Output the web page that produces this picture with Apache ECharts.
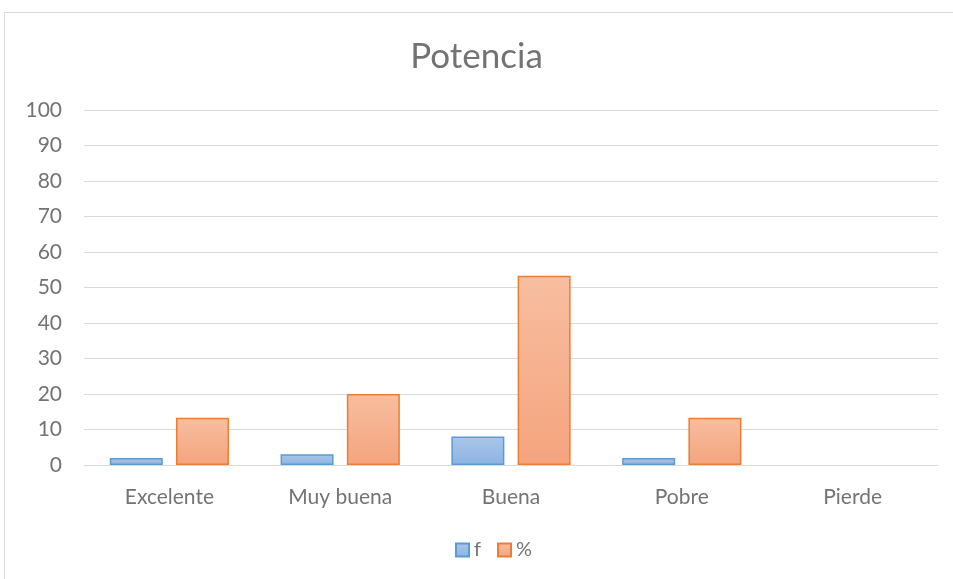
<!DOCTYPE html>
<html>
<head>
<meta charset="utf-8">
<script src="https://cdn.jsdelivr.net/npm/echarts@6/dist/echarts.min.js"></script>
<style>
  html, body { margin: 0; padding: 0; background: #fff; }
  #chart { width: 953px; height: 579px; }
</style>
</head>
<body>
<div id="chart"></div>
<script>
// Ratings of engine power
const categories = ['Excelente', 'Muy buena', 'Buena', 'Pobre', 'Pierde'];
const freq = [2, 3, 8, 2, 0];
const percent = [13.33, 20, 53.33, 13.33, 0];
const yTicks = { min: 0, max: 100, interval: 10 };

const font = 'Lato, "Open Sans", sans-serif';
const textColor = '#737373';
const grad = (top, bottom) => new echarts.graphic.LinearGradient(0, 0, 0, 1, [
  { offset: 0, color: top }, { offset: 1, color: bottom }
]);
// zero-height bars get no outline so they stay invisible
const bars = values => values.map(v => v === 0 ? { value: v, itemStyle: { borderWidth: 0 } } : v);

const chart = echarts.init(document.getElementById('chart'));
chart.setOption({
  animation: false,
  graphic: [{
    type: 'rect',
    shape: { x: 4.5, y: 12.5, width: 1000, height: 1000 },
    style: { fill: 'none', stroke: '#d9d9d9', lineWidth: 1 },
    silent: true
  }],
  title: {
    text: 'Potencia',
    left: 'center',
    top: 34,
    textStyle: { fontFamily: font, fontSize: 35, fontWeight: 'normal', color: textColor }
  },
  legend: {
    bottom: 14,
    left: 450,
    icon: 'rect',
    itemWidth: 13,
    itemHeight: 13,
    itemGap: 16,
    textStyle: { fontFamily: font, fontSize: 20, color: textColor },
    data: ['f', '%']
  },
  grid: { left: 84, right: 15, top: 110, bottom: 114, containLabel: false },
  xAxis: {
    type: 'category',
    data: categories,
    axisTick: { show: false },
    axisLine: { lineStyle: { color: '#d9d9d9', width: 1 } },
    axisLabel: { fontFamily: font, fontSize: 21, color: textColor, margin: 22 }
  },
  yAxis: {
    type: 'value',
    min: yTicks.min,
    max: yTicks.max,
    interval: yTicks.interval,
    axisLine: { show: false },
    axisTick: { show: false },
    splitLine: { lineStyle: { color: '#d9d9d9', width: 1 } },
    axisLabel: { fontFamily: font, fontSize: 21, color: textColor, margin: 22 }
  },
  series: [
    {
      name: 'f',
      type: 'bar',
      data: bars(freq),
      barWidth: 53,
      barGap: '25%',
      itemStyle: { color: grad('#aac6ea', '#8db3e2'), borderColor: '#5b9bd5', borderWidth: 1.5 }
    },
    {
      name: '%',
      type: 'bar',
      data: bars(percent),
      barWidth: 53,
      itemStyle: { color: grad('#f7bea0', '#f4a47d'), borderColor: '#ed7d31', borderWidth: 1.5 }
    }
  ]
});
</script>
</body>
</html>
